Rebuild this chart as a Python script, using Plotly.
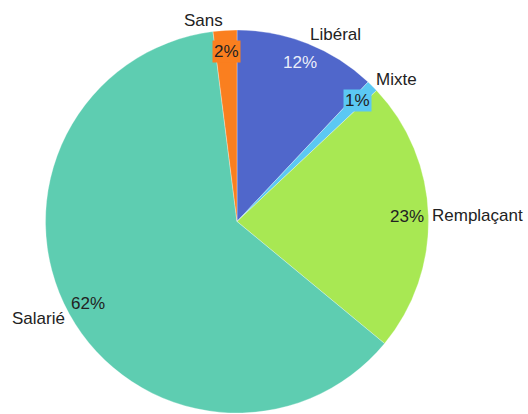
import math
import plotly.graph_objects as go

labels = ["Libéral", "Mixte", "Remplaçant", "Salarié", "Sans"]
values = [12, 1, 23, 62, 2]
pct_text = ["12%", "1%", "23%", "62%", "2%"]
colors = ["#5067cb", "#5bc8f3", "#a8e853", "#5ecdb1", "#fa7f1f"]
pct_font_colors = ["rgba(255,255,255,0.9)", "#222", "#222", "#222", "#222"]
pct_boxed = [False, True, False, False, True]

W, H = 528, 414
CX, CY, R = 237.0, 221.5, 191.5

fig = go.Figure()
fig.add_trace(go.Pie(
    labels=labels, values=values, sort=False, direction="clockwise", rotation=0,
    marker=dict(colors=colors, line=dict(color="rgba(255,255,255,0.6)", width=0.5)),
    textinfo="none", hoverinfo="label+percent", showlegend=False,
    domain=dict(x=[(CX - R) / W, (CX + R) / W], y=[(H - CY - R) / H, (H - CY + R) / H]),
))

total = sum(values)
cum = 0.0
annotations = []
for lab, v, pt, col, fc, boxed in zip(labels, values, pct_text, colors, pct_font_colors, pct_boxed):
    mid = (cum + v / 2) / total * 2 * math.pi
    cum += v
    s, c = math.sin(mid), math.cos(mid)
    # outside label
    px, py = CX + (R + 2) * s, CY - (R + 10) * c
    annotations.append(dict(
        x=px / W, y=1 - py / H, xref="paper", yref="paper", text=lab, showarrow=False,
        xanchor="left" if s >= 0 else "right", yanchor="middle",
        font=dict(family="Liberation Sans, Arial, sans-serif", size=17, color="#222"),
    ))
    # percentage label inside near the rim
    ri = R - 21
    qx, qy = CX + ri * s, CY - ri * c
    ann = dict(
        x=qx / W, y=1 - qy / H, xref="paper", yref="paper", text=pt, showarrow=False,
        xanchor="center", yanchor="middle",
        font=dict(family="Liberation Sans, Arial, sans-serif", size=17, color=fc),
    )
    if boxed:
        ann.update(bgcolor=col, borderpad=1)
    annotations.append(ann)

fig.update_layout(
    width=W, height=H, margin=dict(l=0, r=0, t=0, b=0),
    paper_bgcolor="white", plot_bgcolor="white",
    annotations=annotations,
)

fig.write_html(
    "out.html",
    config={"displayModeBar": False},
    post_script="document.body.style.margin='0';document.body.style.overflow='hidden';",
)
